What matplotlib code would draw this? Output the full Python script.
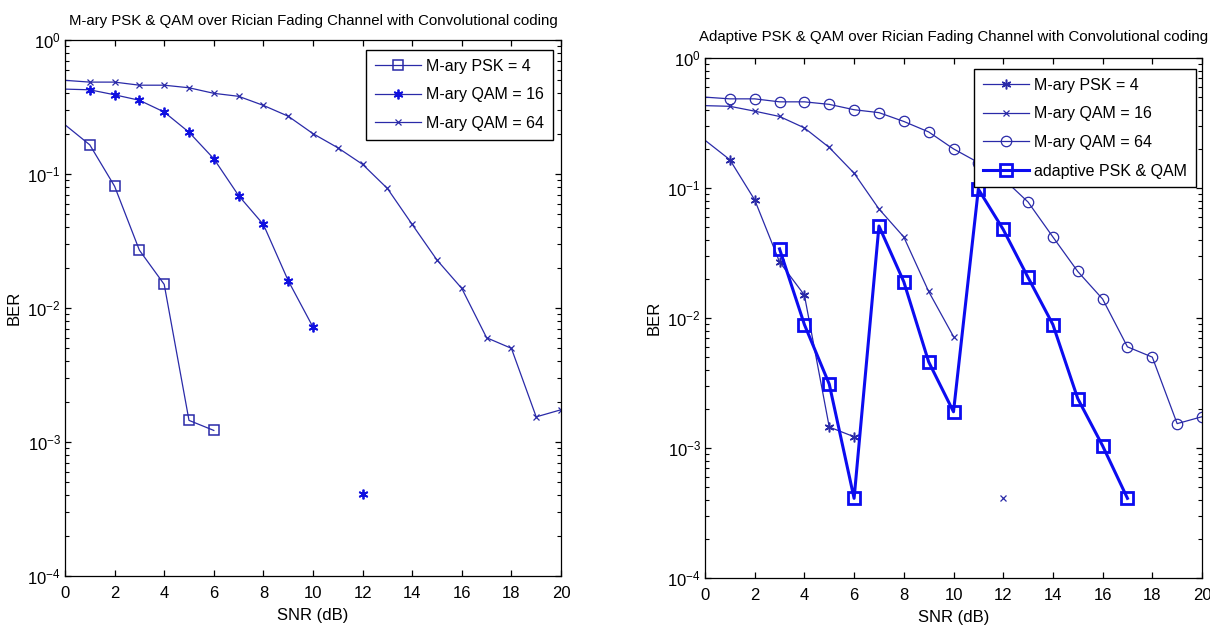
import numpy as np
import matplotlib
matplotlib.use('Agg')
import matplotlib.pyplot as plt

plt.rcParams['font.family'] = ['Liberation Sans', 'DejaVu Sans']
plt.rcParams['mathtext.default'] = 'regular'
plt.rcParams['axes.unicode_minus'] = False

# SNR 축 (dB)
snr_psk4 = [0, 1, 2, 3, 4, 5, 6]
snr_qam16 = [0, 1, 2, 3, 4, 5, 6, 7, 8, 9, 10, 11, 12]
snr_qam64 = list(range(0, 21))
snr_adapt = list(range(3, 18))

# BER 값
ber_psk4 = [0.233, 0.165, 0.081, 0.027, 0.0150, 0.00145, 0.00122]
ber_qam16 = [0.43, 0.425, 0.39, 0.355, 0.29, 0.205, 0.13, 0.069, 0.042, 0.016, 0.0072,
             np.nan, 0.00041]
ber_qam64 = [0.50, 0.485, 0.485, 0.46, 0.46, 0.44, 0.40, 0.38, 0.325, 0.27, 0.20, 0.157,
             0.118, 0.078, 0.042, 0.0228, 0.014, 0.0060, 0.0050, 0.00154, 0.00174]
ber_adapt = [0.034, 0.0089, 0.0031, 0.00041, 0.051, 0.019, 0.0046, 0.0019, 0.098, 0.048,
             0.0205, 0.0089, 0.0024, 0.00104, 0.00041]

labels_left = ['M-ary PSK = 4', 'M-ary QAM = 16', 'M-ary QAM = 64']
labels_right = ['M-ary PSK = 4', 'M-ary QAM = 16', 'M-ary QAM = 64', 'adaptive PSK & QAM']

thin = '#2a2aa8'
bold = '#0c0cf0'
star = (6, 2, 0)
fs = 12

fig = plt.figure(figsize=(12.1, 6.35), dpi=100)
ax1 = fig.add_axes([65 / 1210, 1 - 576 / 635, 496 / 1210, 536 / 635])
ax2 = fig.add_axes([705 / 1210, 1 - 578 / 635, 497 / 1210, 520 / 635])

# 왼쪽 그래프
l1, = ax1.plot(snr_psk4, ber_psk4, '-', marker='s', color=thin, lw=0.9, ms=7, mfc='none', mew=1.1)
l2, = ax1.plot(snr_qam16, ber_qam16, '-', marker=star, color=thin, lw=0.9, ms=7, mew=1.3, mec='#1010e0')
l3, = ax1.plot(snr_qam64, ber_qam64, '-', marker='x', color=thin, lw=0.9, ms=5, mew=0.9)

# 오른쪽 그래프
r1, = ax2.plot(snr_psk4, ber_psk4, '-', marker=star, color=thin, lw=0.9, ms=7, mew=1.1)
r2, = ax2.plot(snr_qam16, ber_qam16, '-', marker='x', color=thin, lw=0.9, ms=5, mew=0.9)
r3, = ax2.plot(snr_qam64, ber_qam64, '-', marker='o', color=thin, lw=0.9, ms=7.5, mfc='none', mew=0.9)
r4, = ax2.plot(snr_adapt, ber_adapt, '-', marker='s', color=bold, lw=2.2, ms=8, mfc='none', mew=2)

titles = ['M-ary PSK & QAM over Rician Fading Channel with Convolutional coding',
          'Adaptive PSK & QAM over Rician Fading Channel with Convolutional coding']
for ax, t, pad in [(ax1, titles[0], 11), (ax2, titles[1], 12)]:
    ax.set_yscale('log')
    ax.set_xlim(0, 20)
    ax.set_ylim(1e-4, 1)
    ax.set_xticks(range(0, 21, 2))
    ax.tick_params(which='both', direction='in', top=True, right=True, labelsize=fs)
    ax.tick_params(axis='x', pad=7)
    ax.tick_params(axis='y', pad=3)
    ax.tick_params(which='major', length=4.5, width=0.9)
    ax.tick_params(which='minor', length=2.8, width=0.8)
    for s in ax.spines.values():
        s.set_linewidth(0.9)
    ax.set_xlabel('SNR (dB)', fontsize=fs, labelpad=5)
    ax.set_ylabel('BER', fontsize=fs, labelpad=4)
    ax.set_title(t, fontsize=10.8, pad=pad)

leg_kw = dict(fontsize=11.5, loc='upper right', bbox_transform=fig.transFigure, borderaxespad=0,
              fancybox=False, framealpha=1, edgecolor='black', handlelength=2.9,
              labelspacing=0.85, borderpad=0.55, handletextpad=0.3)
lg1 = ax1.legend([l1, l2, l3], labels_left, bbox_to_anchor=(553 / 1210, 1 - 50 / 635), **leg_kw)
lg2 = ax2.legend([r1, r2, r3, r4], labels_right, bbox_to_anchor=(1196 / 1210, 1 - 69 / 635), **leg_kw)
for lg in (lg1, lg2):
    lg.get_frame().set_linewidth(1.0)

# x=0 지점에는 마커 없음 (범례 생성 후 설정)
for ln in (l1, l2, l3, r1, r2, r3):
    ln.set_markevery(list(range(1, len(ln.get_xdata()))))

fig.savefig('out.png', dpi=100)
